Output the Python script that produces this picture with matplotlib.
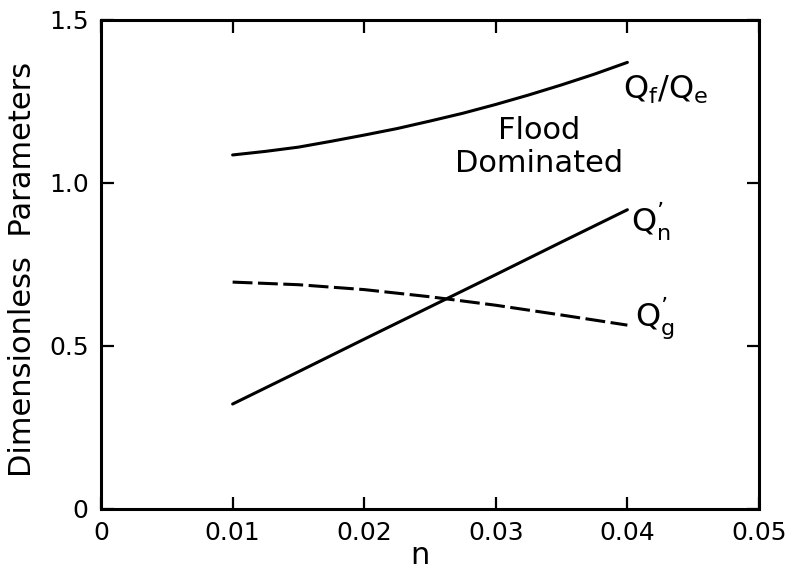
import matplotlib
import matplotlib.pyplot as plt

matplotlib.use("agg")

# values
n_fine = [0.0100, 0.0125, 0.0150, 0.0175, 0.0200, 0.0225, 0.0250,
          0.0275, 0.0300, 0.0325, 0.0350, 0.0375, 0.0400]
qf_qe = [1.086, 1.097, 1.110, 1.128, 1.147, 1.167, 1.190,
         1.214, 1.241, 1.270, 1.301, 1.334, 1.370]

n_vals = [0.010, 0.015, 0.020, 0.025, 0.030, 0.035, 0.040]
qn_prime = [0.322, 0.421, 0.521, 0.620, 0.719, 0.819, 0.918]
qg_prime = [0.696, 0.688, 0.673, 0.651, 0.625, 0.595, 0.564]

x_ticks = [0, 0.01, 0.02, 0.03, 0.04, 0.05]
x_ticklabels = ["0", "0.01", "0.02", "0.03", "0.04", "0.05"]
y_ticks = [0, 0.5, 1.0, 1.5]
y_ticklabels = ["0", "0.5", "1.0", "1.5"]

plt.rcParams["font.family"] = "DejaVu Sans"
plt.rcParams["mathtext.default"] = "regular"

fig = plt.figure(figsize=(7.93, 5.73), dpi=100)
ax = fig.add_axes([0.1274, 0.1117, 0.8297, 0.8534])

ax.plot(n_fine, qf_qe, color="black", lw=2.2, solid_capstyle="round")
ax.plot(n_vals, qn_prime, color="black", lw=2.2, solid_capstyle="round")
(dash_line,) = ax.plot(n_vals, qg_prime, color="black", lw=2.2)
dash_line.set_dashes((6.5, 1.8))

ax.set_xlim(0, 0.05)
ax.set_ylim(0, 1.5)
ax.set_xticks(x_ticks)
ax.set_xticklabels(x_ticklabels)
ax.set_yticks(y_ticks)
ax.set_yticklabels(y_ticklabels)

ax.tick_params(direction="in", length=9, width=1.6, labelsize=18, pad=9,
               top=True, right=True)
for sp in ax.spines.values():
    sp.set_linewidth(2.2)

ax.set_xlabel("n", fontsize=22)
ax.xaxis.set_label_coords(0.485, -0.065)
ax.set_ylabel("Dimensionless  Parameters", fontsize=22)
ax.yaxis.set_label_coords(-0.098, 0.49)

ax.text(0.0397, 1.285, r"Q$_f$/Q$_e$", fontsize=23, va="center", ha="left")
ax.text(0.0333, 1.11, "Flood\nDominated", fontsize=22, va="center",
        ha="center", linespacing=1.15)
ax.text(0.0403, 0.88, "$Q^{\u2019}_n$", fontsize=23, va="center", ha="left")
ax.text(0.0406, 0.585, "$Q^{\u2019}_g$", fontsize=23, va="center", ha="left")

fig.savefig("out.png", dpi=100)
plt.close(fig)
